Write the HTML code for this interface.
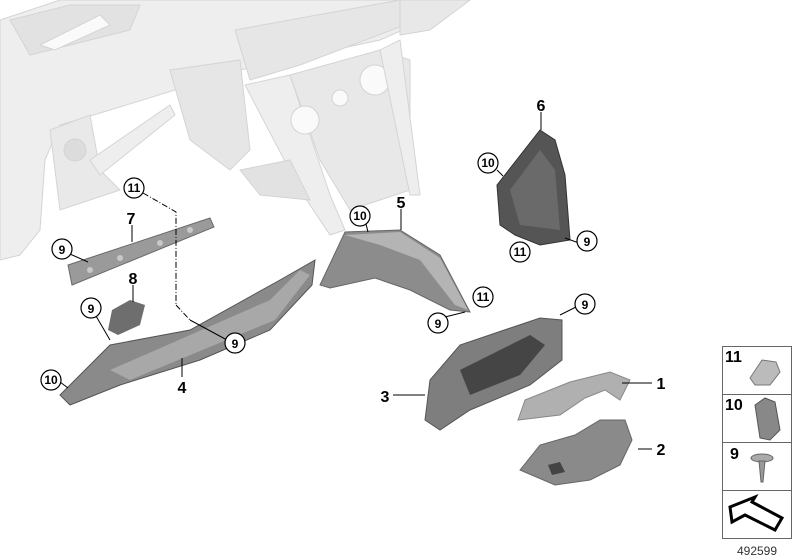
<!DOCTYPE html>
<html><head><meta charset="utf-8"><style>
html,body{margin:0;padding:0;background:#fff;width:800px;height:560px;overflow:hidden}
svg text{font-family:"Liberation Sans",sans-serif;font-weight:bold;fill:#000}
</style></head><body>
<svg width="800" height="560" viewBox="0 0 800 560" xmlns="http://www.w3.org/2000/svg">
<!-- dashboard ghost -->
<g fill="#eeeeee" stroke="#d4d4d4" stroke-width="1">
<path d="M0,20 L60,0 L470,0 L380,40 L240,70 L110,110 L60,125 L45,160 L40,230 L20,255 L0,260 Z"/>
<path d="M10,20 L70,5 L140,5 L130,30 L30,55 Z" fill="#e2e2e2"/>
<path d="M40,45 L100,15 L110,25 L55,50 Z" fill="#fafafa"/>
<path d="M235,30 L400,0 L470,0 L300,65 L250,80 Z" fill="#e6e6e6"/>
<path d="M245,85 L290,75 L330,195 L345,230 L330,235 L300,190 Z"/>
<path d="M290,75 L380,50 L410,60 L410,190 L350,210 L320,160 Z" fill="#e8e8e8"/>
<circle cx="305" cy="120" r="14" fill="#fafafa"/>
<circle cx="340" cy="98" r="8" fill="#fafafa"/>
<circle cx="375" cy="80" r="15" fill="#fafafa"/>
<path d="M380,50 L400,40 L420,195 L410,195 Z"/>
<path d="M170,70 L240,60 L250,150 L230,170 L190,140 Z" fill="#e6e6e6"/>
<path d="M240,170 L290,160 L310,200 L260,195 Z" fill="#e2e2e2"/>
<path d="M400,0 L470,0 L430,30 L400,35 Z" fill="#e8e8e8"/>
<path d="M50,130 L90,115 L100,170 L120,190 L60,210 L55,170 Z" fill="#e9e9e9"/>
<circle cx="75" cy="150" r="11" fill="#dcdcdc"/>
<path d="M90,160 L170,105 L175,115 L100,175 Z"/>
</g>
<!-- part 7 strip -->
<path d="M68,265 L210,218 L214,227 L72,285 Z" fill="#9a9a9a" stroke="#6a6a6a"/>
<g fill="#c8c8c8"><circle cx="90" cy="270" r="3"/><circle cx="120" cy="258" r="3"/><circle cx="160" cy="243" r="3"/><circle cx="190" cy="230" r="3"/></g>
<!-- part 8 -->
<path d="M112,310 L130,300 L145,305 L140,325 L118,335 L108,330 Z" fill="#6e6e6e"/>
<!-- part 4 -->
<path d="M60,395 L110,345 L190,330 L280,280 L315,260 L312,285 L270,330 L200,360 L120,385 L70,405 Z" fill="#8a8a8a" stroke="#555" stroke-width="1"/>
<path d="M110,370 L270,300 L300,270 L310,275 L275,320 L130,380 Z" fill="#a8a8a8"/>
<!-- part 5 -->
<path d="M320,285 L345,232 L400,230 L440,255 L470,312 L450,310 L410,290 L375,278 L330,288 Z" fill="#8c8c8c" stroke="#666"/>
<path d="M345,235 L400,232 L440,258 L468,310 L455,305 L420,260 L380,245 Z" fill="#b4b4b4"/>
<!-- part 6 -->
<path d="M497,185 L540,130 L555,140 L565,175 L570,240 L540,245 L515,235 L500,225 Z" fill="#555" stroke="#333"/>
<path d="M510,190 L540,150 L555,170 L560,230 L520,225 Z" fill="#6a6a6a"/>
<!-- part 3 -->
<path d="M425,420 L430,380 L460,345 L540,318 L562,320 L562,360 L530,385 L470,410 L440,430 Z" fill="#7e7e7e" stroke="#555"/>
<path d="M460,370 L530,335 L545,345 L520,375 L470,395 Z" fill="#454545"/>
<!-- part 1 -->
<path d="M518,420 L525,400 L570,382 L610,372 L630,380 L620,400 L605,390 L585,398 L560,415 Z" fill="#b0b0b0" stroke="#888"/>
<!-- part 2 -->
<path d="M520,470 L540,445 L575,435 L600,420 L625,420 L632,440 L620,465 L590,480 L555,485 Z" fill="#8a8a8a" stroke="#666"/>
<path d="M548,465 L560,462 L565,472 L552,475 Z" fill="#444"/>
<!-- leader lines -->
<g stroke="#000" stroke-width="1" fill="none">
<path d="M143,193 L176,212 L176,305" stroke-dasharray="6,2,1,2"/>
<path d="M176,305 L190,320" stroke-dasharray="6,2,1,2"/>
<line x1="132" y1="225" x2="132" y2="242"/>
<line x1="70" y1="254" x2="88" y2="262"/>
<line x1="133" y1="285" x2="133" y2="302"/>
<line x1="96" y1="316" x2="110" y2="340"/>
<line x1="227" y1="340" x2="190" y2="320"/>
<line x1="60" y1="382" x2="68" y2="388"/>
<line x1="182" y1="377" x2="182" y2="358"/>
<line x1="401" y1="209" x2="401" y2="230"/>
<line x1="366" y1="224" x2="368" y2="232"/>
<line x1="541" y1="112" x2="541" y2="130"/>
<line x1="497" y1="170" x2="503" y2="176"/>
<line x1="579" y1="243" x2="565" y2="238"/>
<line x1="429" y1="321" x2="465" y2="312"/>
<line x1="578" y1="306" x2="560" y2="315"/>
<line x1="393" y1="395" x2="425" y2="395"/>
<line x1="622" y1="383" x2="652" y2="383"/>
<line x1="638" y1="449" x2="652" y2="449"/>
</g>
<!-- circles -->
<g fill="#fff" stroke="#000" stroke-width="1.2">
<circle cx="134" cy="188" r="10"/><circle cx="62" cy="249" r="10"/><circle cx="91" cy="308" r="10"/>
<circle cx="235" cy="343" r="10"/><circle cx="51" cy="380" r="10"/><circle cx="360" cy="216" r="10"/>
<circle cx="488" cy="163" r="10"/><circle cx="587" cy="241" r="10"/><circle cx="520" cy="252" r="10"/>
<circle cx="483" cy="297" r="10"/><circle cx="438" cy="323" r="10"/><circle cx="585" cy="304" r="10"/>
</g>
<g font-size="12" text-anchor="middle">
<text x="134" y="192">11</text><text x="62" y="254">9</text><text x="91" y="313">9</text>
<text x="235" y="348">9</text><text x="51" y="384">10</text><text x="360" y="220">10</text>
<text x="488" y="167">10</text><text x="587" y="246">9</text><text x="520" y="256">11</text>
<text x="483" y="301">11</text><text x="438" y="328">9</text><text x="585" y="309">9</text>
</g>
<g font-size="16" text-anchor="middle">
<text x="131" y="224">7</text><text x="133" y="284">8</text><text x="182" y="393">4</text>
<text x="401" y="208">5</text><text x="541" y="111">6</text><text x="385" y="402">3</text>
<text x="661" y="389">1</text><text x="661" y="455">2</text>
</g>
<!-- legend -->
<g fill="none" stroke="#666" stroke-width="1">
<rect x="722.5" y="346.5" width="69" height="192"/>
<line x1="722" y1="394.5" x2="792" y2="394.5"/><line x1="722" y1="442.5" x2="792" y2="442.5"/><line x1="722" y1="490.5" x2="792" y2="490.5"/>
</g>
<g font-size="16"><text x="725" y="362">11</text><text x="725" y="410">10</text><text x="730" y="459">9</text></g>
<path d="M750,378 L762,360 L776,362 L780,372 L770,385 L755,385 Z" fill="#bbb" stroke="#777"/>
<path d="M755,405 L765,398 L775,402 L780,430 L770,440 L760,438 Z" fill="#888" stroke="#555"/>
<ellipse cx="762" cy="458" rx="11" ry="4" fill="#aaa" stroke="#666"/>
<path d="M759,461 L765,461 L763,482 L761,482 Z" fill="#999" stroke="#666"/>
<path d="M730,507 L755,497 L752,502 L782,518 L775,530 L745,515 L732,522 Z" fill="#fff" stroke="#000" stroke-width="3"/>
<text x="757" y="555" font-size="12" text-anchor="middle" style="font-weight:normal;fill:#333">492599</text>
</svg>
</body></html>
